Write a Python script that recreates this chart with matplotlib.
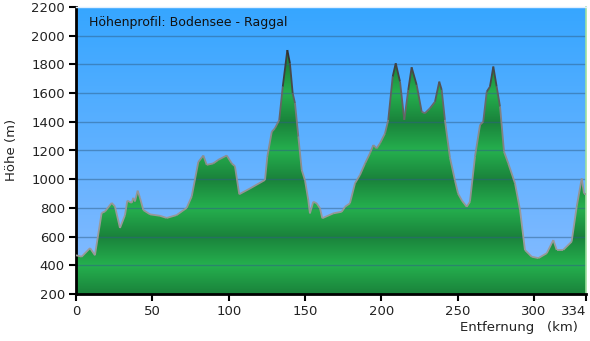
import numpy as np
import matplotlib
matplotlib.use("Agg")
import matplotlib.pyplot as plt
from matplotlib.collections import LineCollection
from matplotlib.colors import LinearSegmentedColormap, to_rgb

# Elevation profile Bodensee -> Raggal (distance km, height m)
dist_km = [0, 3.7, 9.2, 12.4, 16.8, 19.0, 23.4, 25.5, 28.8, 32.1, 33.6, 36.5, 37.5,
           38.6, 40.4, 41.9, 44.1, 48.5, 55.0, 59.4, 65.9, 72.5, 75.8, 80.1, 83.4,
           85.6, 89.9, 93.2, 98.7, 102.0, 104.1, 106.9, 113.9, 123.8, 125.3, 128.2,
           130.3, 133.1, 135.4, 138.4, 140.1, 141.9, 143.4, 145.6, 147.8, 150.0,
           152.1, 153.2, 155.4, 157.6, 159.8, 161.3, 168.5, 174.0, 176.2, 179.4,
           182.7, 186.0, 189.3, 192.5, 194.7, 196.9, 199.1, 202.4, 204.5, 207.4,
           209.4, 212.2, 215.0, 217.6, 219.8, 223.1, 226.4, 228.5, 231.8, 235.1,
           237.9, 239.5, 241.6, 244.9, 248.2, 250.2, 252.8, 255.9, 258.0, 261.3,
           264.6, 266.7, 269.0, 271.1, 273.3, 275.5, 277.7, 280.3, 283.1, 287.5,
           290.8, 294.0, 298.4, 302.8, 308.3, 312.6, 314.8, 319.1, 324.6, 327.9,
           331.2, 332.7, 334]
height_m = [470, 460, 520, 470, 765, 775, 835, 810, 660, 750, 850, 835, 870,
            845, 920, 870, 785, 755, 745, 730, 750, 800, 880, 1120, 1165,
            1100, 1110, 1135, 1165, 1110, 1090, 895, 935, 995, 1157, 1330,
            1355, 1413, 1645, 1900, 1808, 1600, 1530, 1297, 1065, 990,
            855, 762, 843, 832, 797, 728, 762, 773, 808, 832,
            971, 1030, 1110, 1180, 1238, 1215, 1250, 1320, 1413, 1715,
            1808, 1680, 1413, 1622, 1780, 1657, 1470, 1460, 1494, 1540,
            1680, 1622, 1413, 1150, 990, 900, 850, 808, 843, 1157,
            1378, 1401, 1610, 1645, 1785, 1645, 1506, 1192, 1110, 971,
            785, 507, 460, 450, 484, 576, 507, 507, 565, 808,
            1005, 900, 900]

x_ticks = [0, 50, 100, 150, 200, 250, 300, 334]
y_ticks = list(range(200, 2201, 200))

x = np.array(dist_km)
y = np.array(height_m)
ymin, ymax = 200, 2200
xmax = 334

fig = plt.figure(figsize=(5.9, 3.41), dpi=100)
ax = fig.add_axes([76 / 590, 47 / 341, 510 / 590, 287 / 341])
ax.set_xlim(0, xmax)
ax.set_ylim(ymin, ymax)

# sky: vertical blue gradient
top = np.array(to_rgb("#36a6ff"))
bot = np.array(to_rgb("#8abcff"))
t = np.linspace(0, 1, 256)[:, None]
sky = (top * (1 - t) + bot * t)[:, None, :].repeat(2, axis=1)
ax.imshow(sky, extent=[0, xmax, ymin, ymax], aspect="auto", zorder=0,
          interpolation="bilinear")

# ground: banded green, dark at 200/600/1000..., light at 400/800/...
hh = np.linspace(ymax, ymin, 600)
phase = np.abs(((hh - 200) % 400) / 200 - 1)  # 1 at dark lines, 0 at light
light = np.array(to_rgb("#25b04e"))
dark = np.array(to_rgb("#1a823b"))
green = (light * (1 - phase[:, None]) + dark * phase[:, None])[:, None, :].repeat(2, axis=1)
fill = ax.fill_between(x, ymin, y, color="none", lw=0, zorder=1)
img = ax.imshow(green, extent=[0, xmax, ymin, ymax], aspect="auto", zorder=1,
                interpolation="bilinear")
img.set_clip_path(fill.get_paths()[0], transform=ax.transData)

# grid lines drawn over the profile
for v in y_ticks[1:-1]:
    ax.axhline(v, color="#2f5f88", lw=1, alpha=0.5, zorder=2)

# outline, darker on the high parts
pts = np.column_stack([x, y]).reshape(-1, 1, 2)
segs = np.concatenate([pts[:-1], pts[1:]], axis=1)
line_cmap = LinearSegmentedColormap.from_list("outline", ["#9a9a9a", "#8a8a8a", "#2a2a2a"])
lc = LineCollection(segs, cmap=line_cmap, norm=plt.Normalize(700, 1900),
                    linewidths=1.3, zorder=3)
lc.set_array((y[:-1] + y[1:]) / 2)
ax.add_collection(lc)

ax.set_xticks(x_ticks)
ax.set_yticks(y_ticks)
ax.tick_params(direction="out", length=5, width=1.5, color="black",
               labelsize=9.5, labelcolor="#222222", pad=3)
# last distance label sits left of its tick
ax.get_xticklabels()[-1].set_horizontalalignment("right")
for side in ("left", "bottom"):
    ax.spines[side].set_linewidth(2)
    ax.spines[side].set_color("black")
ax.spines["top"].set_color("#dfefff")
ax.spines["top"].set_linewidth(1)
ax.spines["right"].set_color("#9fe09f")
ax.spines["right"].set_linewidth(1.2)

ax.text(0.026, 0.945, "Höhenprofil: Bodensee - Raggal", transform=ax.transAxes,
        fontsize=9, color="#111111", va="center", ha="left", zorder=5)
fig.text(12 / 590, 1 - 150 / 341, "Höhe (m)", rotation=90, ha="center",
         va="center", fontsize=9.5, color="#222222")
fig.text(578 / 590, 1 - 327 / 341, "Entfernung   (km)", ha="right",
         va="center", fontsize=9.5, color="#222222")

fig.savefig("out.png", dpi=100)
